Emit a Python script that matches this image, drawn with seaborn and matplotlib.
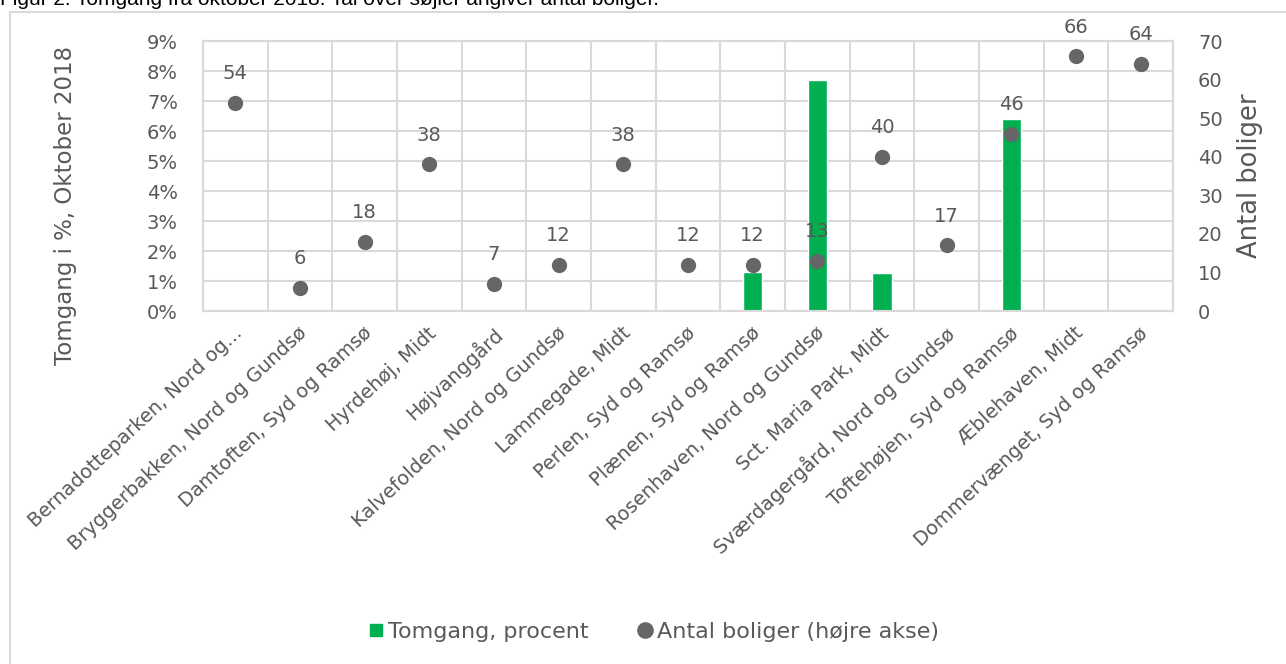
import matplotlib
matplotlib.use("Agg")
import matplotlib.pyplot as plt
import matplotlib.transforms as mtransforms
from matplotlib.lines import Line2D
from matplotlib.patches import Rectangle
import seaborn as sns
import pandas as pd
import numpy as np

# data
afdelinger = ["Bernadotteparken, Nord og...", "Bryggerbakken, Nord og Gundsø",
              "Damtoften, Syd og Ramsø", "Hyrdehøj, Midt", "Højvanggård",
              "Kalvefolden, Nord og Gundsø", "Lammegade, Midt", "Perlen, Syd og Ramsø",
              "Plænen, Syd og Ramsø", "Rosenhaven, Nord og Gundsø", "Sct. Maria Park, Midt",
              "Sværdagergård, Nord og Gundsø", "Toftehøjen, Syd og Ramsø",
              "Æblehaven, Midt", "Dommervænget, Syd og Ramsø"]
tomgang = [0, 0, 0, 0, 0, 0, 0, 0, 1.3, 7.7, 1.27, 0, 6.4, 0, 0]
boliger = [54, 6, 18, 38, 7, 12, 38, 12, 12, 13, 40, 17, 46, 66, 64]

df = pd.DataFrame({"afd": afdelinger, "tomgang": tomgang, "boliger": boliger})

green = "#00B050"
dot = "#666666"
txt = "#595959"
gridc = "#D9D9D9"

sns.set_style("white")
plt.rcParams['font.family'] = ['DejaVu Sans']

fig = plt.figure(figsize=(12.86, 6.64), dpi=100)
ax = fig.add_axes([203/1286, 1-311/664, (1173-203)/1286, (311-41)/664])

sns.barplot(data=df, x="afd", y="tomgang", color=green, width=0.3,
            saturation=1, ax=ax, zorder=2)
ax.set_ylim(0, 9)
ax.set_xlim(-0.5, len(afdelinger)-0.5)
ax.set_yticks(range(10))
ax.set_yticklabels([f"{i}%" for i in range(10)])
ax.set_xticks(np.arange(len(afdelinger)) + 0.5, minor=True)
ax.grid(True, axis="y", color=gridc, lw=1.5, zorder=0)
ax.grid(True, axis="x", which="minor", color=gridc, lw=1.5, zorder=0)
ax.set_axisbelow(True)
ax.set_xlabel("")
ax.set_ylabel("Tomgang i %, Oktober 2018", fontsize=16.5, color=txt)
ax.yaxis.set_label_coords(-0.13, 0.39)
ax.tick_params(axis="y", length=0, pad=18, labelsize=14, labelcolor=txt)
ax.tick_params(axis="x", which="both", length=0, pad=9, labelsize=14, labelcolor=txt)
shift = mtransforms.ScaledTranslation(-2/100, 0, fig.dpi_scale_trans)
for lab in ax.get_xticklabels():
    lab.set_rotation(43)
    lab.set_ha("right")
    lab.set_rotation_mode("anchor")
    lab.set_transform(lab.get_transform() + shift)

ax2 = ax.twinx()
sns.stripplot(data=df, x="afd", y="boliger", color=dot, jitter=False, size=11,
              ax=ax2, zorder=3)
ax2.set_ylim(0, 70)
ax2.set_xlim(-0.5, len(afdelinger)-0.5)
ax2.set_yticks(range(0, 80, 10))
ax2.set_ylabel("Antal boliger", fontsize=18.5, color=txt, labelpad=10)
ax2.tick_params(axis="y", length=0, pad=18, labelsize=14, labelcolor=txt)
for i, v in enumerate(boliger):
    ax2.annotate(str(v), (i, v), xytext=(0, 21), textcoords="offset points",
                 ha="center", va="center", fontsize=14, color=txt)

for a in (ax, ax2):
    for s in a.spines.values():
        s.set_color(gridc)
        s.set_linewidth(1.5)

handles = [Line2D([], [], ls="", marker="s", color=green, markersize=8),
           Line2D([], [], ls="", marker="o", color=dot, markersize=11)]
fig.legend(handles, ["Tomgang, procent", "Antal boliger (højre akse)"],
           loc="center", bbox_to_anchor=(0.507, 0.048), ncol=2, frameon=False,
           fontsize=16, handletextpad=0.05, columnspacing=2.0, labelcolor=txt,
           handlelength=1.0)

fig.patches.append(Rectangle((10/1286, -0.05), 1.1, 1-12/664+0.05,
                             transform=fig.transFigure, fill=False,
                             edgecolor=gridc, lw=1.5))
fig.text(0.0, 1-5/664, "Figur 2: Tomgang fra oktober 2018. Tal over søjler angiver antal boliger.",
         fontsize=15, family="Liberation Sans", va="baseline", ha="left", color="black")

fig.savefig("out.png", dpi=100)
